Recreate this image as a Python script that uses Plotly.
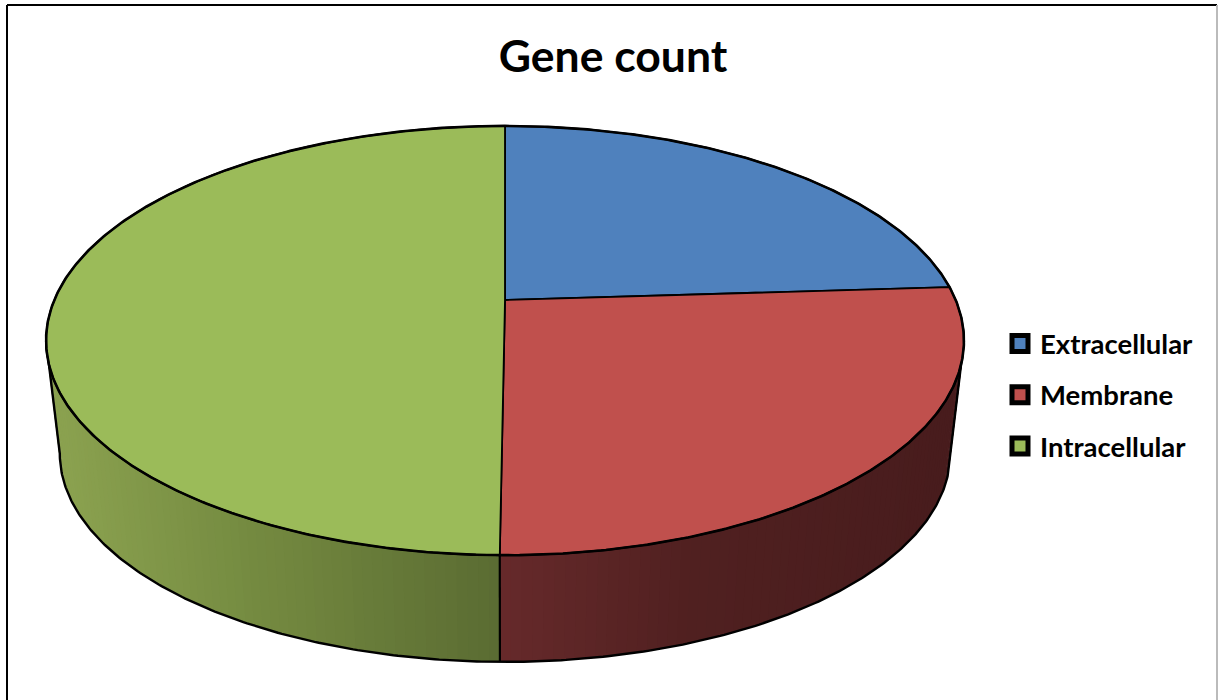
import math
import plotly.graph_objects as go

# Data
categories = ["Extracellular", "Membrane", "Intracellular"]
values = [24.0, 26.15, 49.85]
top_colors = ["#4f81bd", "#c0504d", "#9bbb59"]
title_text = "Gene count"

# Projection of the tilted pie into the figure's coordinate system
CX, CY, A, B, K = 505.0, 300.0, 450.7, 207.0, 0.189
VANISH_Y, BOTTOM_SCALE = 4110.0, 0.97
LINE = "#000000"


def project(theta_deg, level=0.0):
    t = math.radians(theta_deg)
    sx, cy = math.sin(t), math.cos(t)
    w = 1 + K * cy
    X = CX + A * sx / w
    Y = CY - B * cy / w
    if level:
        s = 1 - (1 - BOTTOM_SCALE) * level
        X = CX + s * (X - CX)
        Y = VANISH_Y - s * (VANISH_Y - Y)
    return X, Y


def arc(a0, a1, level=0.0, step=0.5):
    n = max(2, int(abs(a1 - a0) / step) + 1)
    return [project(a0 + (a1 - a0) * i / (n - 1), level) for i in range(n)]


def lerp_color(anchors, x):
    if x <= anchors[0][0]:
        return "rgb(%d,%d,%d)" % anchors[0][1]
    for (x0, c0), (x1, c1) in zip(anchors, anchors[1:]):
        if x <= x1:
            f = (x - x0) / (x1 - x0)
            return "rgb(%d,%d,%d)" % tuple(round(p + (q - p) * f) for p, q in zip(c0, c1))
    return "rgb(%d,%d,%d)" % anchors[-1][1]


green_side = [(60, (138, 161, 79)), (250, (116, 138, 64)), (499, (90, 107, 50))]
red_side = [(499, (103, 42, 43)), (700, (80, 32, 32)), (950, (72, 28, 29))]

total = sum(values)
edges = [0.0]
for v in values:
    edges.append(edges[-1] + 360.0 * v / total)

fig = go.Figure()


def add_poly(points, fill, line_w=0):
    xs = [p[0] for p in points]
    ys = [p[1] for p in points]
    fig.add_trace(go.Scatter(
        x=xs, y=ys, mode="lines", fill="toself", fillcolor=fill,
        line=dict(color=LINE, width=line_w) if line_w else dict(width=0),
        hoverinfo="skip", showlegend=False,
    ))


# Visible side wall, in strips that carry the horizontal shading
right_tangent = math.degrees(math.acos(-K))
left_tangent = 360 - right_tangent
boundary = edges[2]
N = 70
for i in range(N):
    a0 = right_tangent + (boundary - right_tangent) * i / N
    a1 = right_tangent + (boundary - right_tangent) * (i + 1.6) / N
    a1 = min(a1, boundary)
    col = lerp_color(red_side, project(a0)[0])
    add_poly(arc(a0, a1, 0, 0.2) + arc(a1, a0, 1, 0.2), col)
for i in range(N):
    a0 = left_tangent + (boundary - left_tangent) * i / N
    a1 = left_tangent + (boundary - left_tangent) * (i + 1.6) / N
    a1 = max(a1, boundary)
    col = lerp_color(green_side, project(a0)[0])
    add_poly(arc(a0, a1, 0, 0.2) + arc(a1, a0, 1, 0.2), col)

# Side wall outline
outline = arc(right_tangent, right_tangent, 0)[:1] + arc(right_tangent, left_tangent, 1) + arc(left_tangent, left_tangent, 0)[:1]
fig.add_trace(go.Scatter(x=[p[0] for p in outline], y=[p[1] for p in outline], mode="lines",
                         line=dict(color=LINE, width=2.4), hoverinfo="skip", showlegend=False))
div = [project(boundary, 0), project(boundary, 1)]
fig.add_trace(go.Scatter(x=[p[0] for p in div], y=[p[1] for p in div], mode="lines",
                         line=dict(color=LINE, width=2.2), hoverinfo="skip", showlegend=False))

# Top faces
for i, c in enumerate(top_colors):
    pts = [(CX, CY)] + arc(edges[i], edges[i + 1]) + [(CX, CY)]
    add_poly(pts, c, 1.8)
rim = arc(0, 360)
fig.add_trace(go.Scatter(x=[p[0] for p in rim], y=[p[1] for p in rim], mode="lines",
                         line=dict(color=LINE, width=2.6), hoverinfo="skip", showlegend=False))

# Legend entries
for name, c in zip(categories, top_colors):
    fig.add_trace(go.Scatter(
        x=[None], y=[None], mode="markers", name=name, legendgroup=name,
        marker=dict(symbol="square", size=16, color=c, line=dict(color=LINE, width=5)),
    ))

fig.update_layout(
    width=1218, height=700, autosize=False,
    margin=dict(l=0, r=0, t=0, b=0),
    paper_bgcolor="white", plot_bgcolor="white",
    title=dict(text=title_text, x=613 / 1218, xanchor="center", y=1 - 56 / 700, yanchor="middle",
               font=dict(family="Lato", size=44.5, color="black", weight=700)),
    xaxis=dict(range=[0, 1218], visible=False, fixedrange=True),
    yaxis=dict(range=[700, 0], visible=False, fixedrange=True),
    legend=dict(x=1000 / 1218, xanchor="left", y=1 - 319 / 700, yanchor="top",
                font=dict(family="Lato", size=27.5, color="black", weight=700),
                tracegroupgap=12.5, traceorder="grouped", bgcolor="rgba(0,0,0,0)", itemwidth=30),
    shapes=[
        dict(type="line", xref="x", yref="y", x0=7, x1=7, y0=5, y1=700, line=dict(color="black", width=2)),
        dict(type="line", xref="x", yref="y", x0=7, x1=1217, y0=5, y1=5, line=dict(color="black", width=2)),
        dict(type="line", xref="x", yref="y", x0=1217, x1=1217, y0=5, y1=700, line=dict(color="#bbbbbb", width=2)),
    ],
)

fig.write_html("out.html", config={"displayModeBar": False},
               post_script="document.body.style.margin='0';document.body.style.overflow='hidden';")
